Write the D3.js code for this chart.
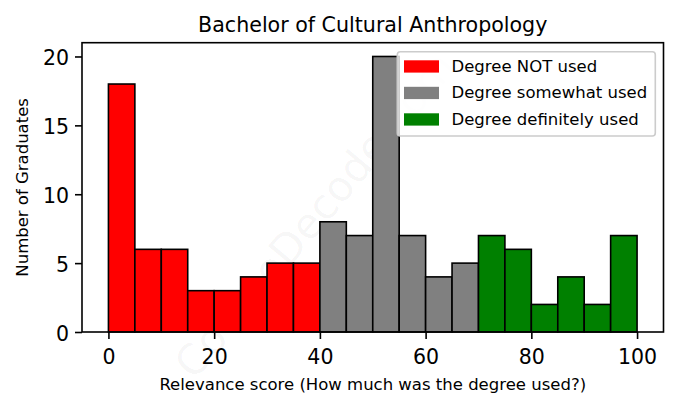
<!DOCTYPE html>
<html>
<head>
<meta charset="utf-8">
<script src="https://cdn.jsdelivr.net/npm/d3@7"></script>
<style>
  html, body { margin: 0; padding: 0; background: #fff; }
  svg { display: block; font-family: "DejaVu Sans", sans-serif; }
</style>
</head>
<body>
<svg id="chart" width="678" height="408"></svg>
<script>
// ---- data ----
const binStarts = [0, 5, 10, 15, 20, 25, 30, 35, 40, 45, 50, 55, 60, 65, 70, 75, 80, 85, 90, 95];
const binWidth = 5;
const counts = [18, 6, 6, 3, 3, 4, 5, 5, 8, 7, 20, 7, 4, 5, 7, 6, 2, 4, 2, 7];
const groupNames = ["Degree NOT used", "Degree somewhat used", "Degree definitely used"];
const groupColors = ["#ff0000", "#808080", "#008000"];
const groupBreaks = [40, 70]; // bin start < 40 -> group 0, < 70 -> group 1, else group 2
const xTicks = [0, 20, 40, 60, 80, 100];
const yTicks = [0, 5, 10, 15, 20];
const title = "Bachelor of Cultural Anthropology";
const xLabel = "Relevance score (How much was the degree used?)";
const yLabel = "Number of Graduates";
const watermark = "CourseDecode.com";

// ---- layout ----
const svg = d3.select("#chart");
const pL = 82, pR = 663.5, pT = 42.7, pB = 332;

const x = d3.scaleLinear().domain([-5, 105]).range([pL, pR]);
const y = d3.scaleLinear().domain([0, 21]).range([pB, pT]);

function groupOf(s) {
  return s < groupBreaks[0] ? 0 : (s < groupBreaks[1] ? 1 : 2);
}

// watermark
svg.append("text")
  .attr("transform", "translate(315,215) rotate(-50)")
  .attr("text-anchor", "middle")
  .attr("dominant-baseline", "central")
  .attr("font-size", 42)
  .attr("fill", "#000")
  .attr("fill-opacity", 0.045)
  .text(watermark);

// bars
const bars = binStarts.map((s, i) => ({ s, v: counts[i], g: groupOf(s) }));
svg.append("g").selectAll("rect").data(bars).join("rect")
  .attr("x", d => x(d.s))
  .attr("y", d => y(d.v))
  .attr("width", d => x(d.s + binWidth) - x(d.s))
  .attr("height", d => y(0) - y(d.v))
  .attr("fill", d => groupColors[d.g])
  .attr("stroke", "#000")
  .attr("stroke-width", 1.6);

// axes
const xAxis = d3.axisBottom(x).tickValues(xTicks).tickSize(7).tickPadding(5).tickFormat(d3.format("d"));
const yAxis = d3.axisLeft(y).tickValues(yTicks).tickSize(7).tickPadding(6).tickFormat(d3.format("d"));

const gx = svg.append("g").attr("transform", `translate(0,${pB})`).call(xAxis);
const gy = svg.append("g").attr("transform", `translate(${pL},0)`).call(yAxis);
[gx, gy].forEach(g => {
  g.select(".domain").remove();
  g.selectAll(".tick line").attr("stroke", "#000").attr("stroke-width", 1.6);
  g.selectAll(".tick text").attr("fill", "#000").attr("font-size", 20.5)
    .attr("font-family", "DejaVu Sans, sans-serif");
});
gx.selectAll(".tick text").attr("dy", null).attr("y", null)
  .attr("transform", "translate(0,31.5)");
gy.selectAll(".tick text").attr("dy", null).attr("transform", "translate(0,8.3)");

// spines
svg.append("rect")
  .attr("x", pL).attr("y", pT)
  .attr("width", pR - pL).attr("height", pB - pT)
  .attr("fill", "none").attr("stroke", "#000").attr("stroke-width", 1.6);

// title
svg.append("text")
  .attr("x", (pL + pR) / 2).attr("y", 31.5)
  .attr("text-anchor", "middle").attr("font-size", 20.6).attr("fill", "#000")
  .text(title);

// x label
svg.append("text")
  .attr("x", (pL + pR) / 2).attr("y", 390)
  .attr("text-anchor", "middle").attr("font-size", 16.5).attr("fill", "#000")
  .text(xLabel);

// y label
svg.append("text")
  .attr("transform", `translate(28,${(pT + pB) / 2}) rotate(-90)`)
  .attr("text-anchor", "middle").attr("font-size", 16.5).attr("fill", "#000")
  .text(yLabel);

// legend
const lg = svg.append("g");
lg.append("rect")
  .attr("x", 397.3).attr("y", 51.7)
  .attr("width", 258).attr("height", 84.3)
  .attr("rx", 3).attr("ry", 3)
  .attr("fill", "#fff").attr("fill-opacity", 0.8)
  .attr("stroke", "#cccccc").attr("stroke-width", 1.6);
const rows = lg.selectAll("g.row").data(groupNames).join("g")
  .attr("class", "row")
  .attr("transform", (d, i) => `translate(0,${66.3 + i * 26.5})`);
rows.append("rect")
  .attr("x", 404).attr("y", -6)
  .attr("width", 35).attr("height", 12.3)
  .attr("fill", (d, i) => groupColors[i]);
rows.append("text")
  .attr("x", 451.5).attr("y", 5.6)
  .attr("font-size", 16.5).attr("fill", "#000")
  .text(d => d);
</script>
</body>
</html>
